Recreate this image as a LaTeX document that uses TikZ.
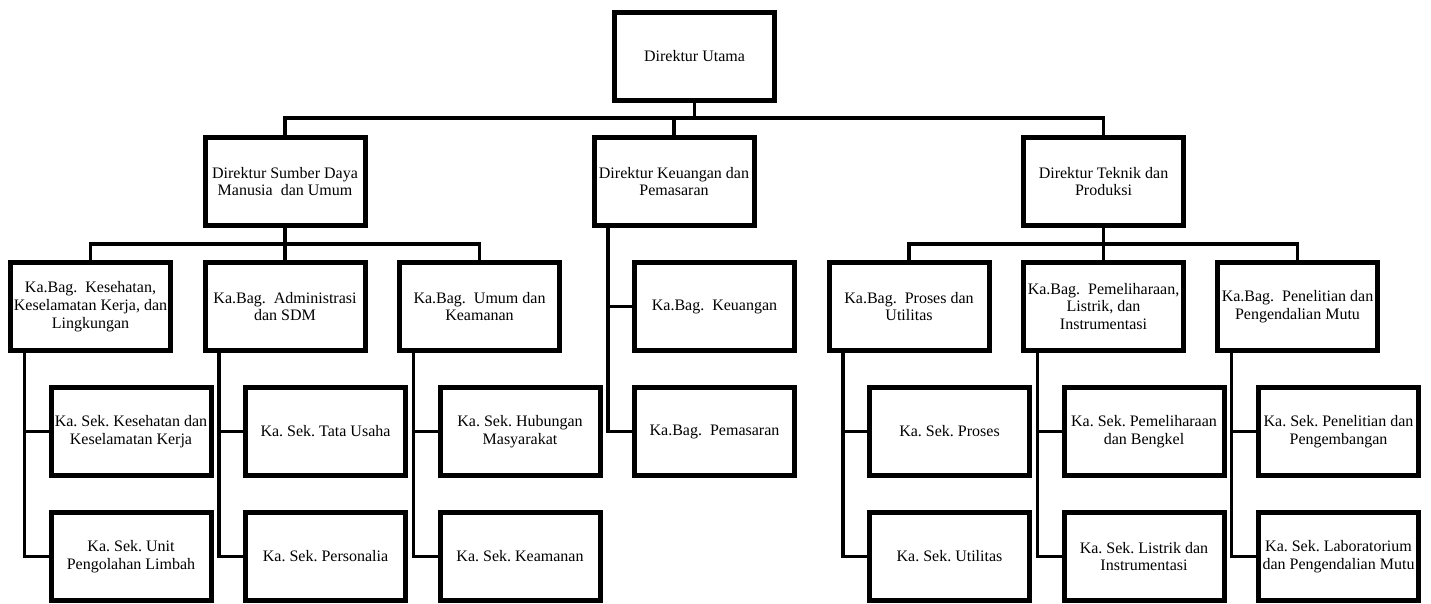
\documentclass[tikz,border=0pt]{standalone}
\usepackage{fontspec}
\setmainfont{Liberation Serif}
\begin{document}
\frenchspacing
\begin{tikzpicture}[x=1pt,y=-1pt,
  box/.style={draw, line width=5pt, minimum width=160pt, minimum height=88pt, inner sep=0pt, align=center, font=\fontsize{16pt}{17.7pt}\selectfont},
  conn/.style={line width=3.5pt}]
\useasboundingbox (0,0) rectangle (1431,603);
% level 1
\node[box] (top) at (694.5,56) {Direktur Utama};
% level 2
\node[box] (dsdm) at (285,181.5) {Direktur Sumber Daya\\Manusia~~dan Umum};
\node[box] (dkp) at (674,181.5) {Direktur Keuangan dan\\Pemasaran};
\node[box] (dtp) at (1103.5,181.5) {Direktur Teknik dan\\Produksi};
% level 3
\node[box] (k1) at (90.5,306.5) {Ka.Bag.~~Kesehatan,\\Keselamatan Kerja, dan\\Lingkungan};
\node[box] (k2) at (285,306.5) {Ka.Bag.~~Administrasi\\dan SDM};
\node[box] (k3) at (479.5,306.5) {Ka.Bag.~~Umum dan\\Keamanan};
\node[box] (keu) at (714.5,306.5) {Ka.Bag.~~Keuangan};
\node[box] (pem) at (714.5,431.5) {Ka.Bag.~~Pemasaran};
\node[box] (k4) at (909,306.5) {Ka.Bag.~~Proses dan\\Utilitas};
\node[box] (k5) at (1103.5,306.5) {Ka.Bag.~~Pemeliharaan,\\Listrik, dan\\Instrumentasi};
\node[box] (k6) at (1297.5,306.5) {Ka.Bag.~~Penelitian dan\\Pengendalian Mutu};
% level 4
\node[box] (s1a) at (131,431.5) {Ka. Sek. Kesehatan dan\\Keselamatan Kerja};
\node[box] (s1b) at (131,556.5) {Ka. Sek. Unit\\Pengolahan Limbah};
\node[box] (s2a) at (325.5,431.5) {Ka. Sek. Tata Usaha};
\node[box] (s2b) at (325.5,556.5) {Ka. Sek. Personalia};
\node[box] (s3a) at (520,431.5) {Ka. Sek. Hubungan\\Masyarakat};
\node[box] (s3b) at (520,556.5) {Ka. Sek. Keamanan};
\node[box] (s4a) at (949.5,431.5) {Ka. Sek. Proses};
\node[box] (s4b) at (949.5,556.5) {Ka. Sek. Utilitas};
\node[box] (s5a) at (1144,431.5) {Ka. Sek. Pemeliharaan\\dan Bengkel};
\node[box] (s5b) at (1144,556.5) {Ka. Sek. Listrik dan\\Instrumentasi};
\node[box] (s6a) at (1338.5,431.5) {Ka. Sek. Penelitian dan\\Pengembangan};
\node[box] (s6b) at (1338.5,556.5) {Ka. Sek. Laboratorium\\dan Pengendalian Mutu};
% top bus
\coordinate (b1) at (694.5,118);
\draw[conn] (top.south) -- (b1);
\draw[conn] (dsdm.north) |- (b1) -| (dtp.north);
\draw[conn] (dkp.north) -- (dkp.north |- b1);
% level 3 buses
\coordinate (b2) at (285,244);
\draw[conn] (dsdm.south) -- (k2.north);
\draw[conn] (k1.north) |- (b2) -| (k3.north);
\coordinate (b3) at (1103.5,244);
\draw[conn] (dtp.south) -- (k5.north);
\draw[conn] (k4.north) |- (b3) -| (k6.north);
% DKP branch
\coordinate (v0) at ([xshift=16.5pt]dkp.south west);
\draw[conn] (v0) |- (pem.west);
\draw[conn] (v0 |- keu.west) -- (keu.west);
% level 4 branches
\foreach \p/\c in {k1/s1,k2/s2,k3/s3,k4/s4,k5/s5,k6/s6}{
  \coordinate (v\p) at ([xshift=16.5pt]\p.south west);
  \draw[conn] (v\p) |- (\c b.west);
  \draw[conn] (v\p |- \c a.west) -- (\c a.west);
}
\end{tikzpicture}
\end{document}
